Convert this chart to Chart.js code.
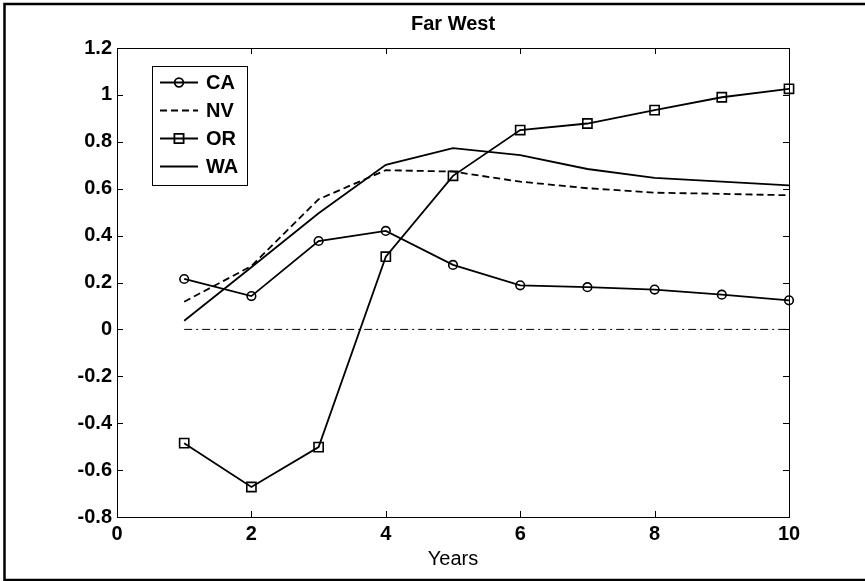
<!DOCTYPE html>
<html>
<head>
<meta charset="utf-8">
<script src="https://cdn.jsdelivr.net/npm/chart.js@4.4.1/dist/chart.umd.min.js"></script>
<style>
  html, body { margin: 0; padding: 0; background: #fff; }
  canvas { display: block; }
</style>
</head>
<body>
<canvas id="myChart" width="865" height="581"></canvas>
<script>
const years = [1, 2, 3, 4, 5, 6, 7, 8, 9, 10];
const ca = [0.215, 0.142, 0.377, 0.42, 0.275, 0.188, 0.18, 0.17, 0.148, 0.124];
const nv = [0.118, 0.27, 0.555, 0.679, 0.673, 0.63, 0.602, 0.583, 0.578, 0.572];
const or = [-0.485, -0.672, -0.502, 0.31, 0.655, 0.85, 0.878, 0.935, 0.99, 1.026];
const wa = [0.037, 0.265, 0.495, 0.702, 0.773, 0.743, 0.684, 0.646, 0.63, 0.614];
const zero = [0, 0, 0, 0, 0, 0, 0, 0, 0, 0];

const xTickLabels = ['0', '2', '4', '6', '8', '10'];
const yTickLabels = ['-0.8', '-0.6', '-0.4', '-0.2', '0', '0.2', '0.4', '0.6', '0.8', '1', '1.2'];

const FONT = '"Liberation Sans", Arial, Helvetica, sans-serif';

function pts(ys) 
{
    return years.map((x, i) => ({x: x, y: ys[i]}));
}

function series(label, ys, style, dash) 
{
    return {
        label: label,
        data: pts(ys),
        borderColor: '#000',
        borderWidth: 1.8,
        borderDash: dash || [],
        pointStyle: style || false,
        pointRadius: style == 'rect' ? 6.5 : (style ? 4.3 : 0),
        pointBorderWidth: 1.6,
        pointBorderColor: '#000',
        pointBackgroundColor: 'rgba(0,0,0,0)',
        tension: 0,
        clip: false
    };
}

const datasets = [
    series('CA', ca, 'circle'),
    series('NV', nv, null, [7, 4]),
    series('OR', or, 'rect'),
    series('WA', wa, null),
    Object.assign(series('', zero, null, [8, 4, 2, 4]), {borderWidth: 1, inLegend: false})
];

// MATLAB style frame, inward ticks, title, label and legend
const matlabLook = 
{
    id: 'matlabLook',
    afterDraw(chart) 
    {
        const ctx = chart.ctx;
        const a = chart.chartArea;
        const xs = chart.scales.x;
        const ys = chart.scales.y;
        ctx.save();

        ctx.strokeStyle = '#000';
        ctx.lineWidth = 1;
        ctx.setLineDash([]);
        ctx.strokeRect(a.left + 0.5, a.top + 0.5, a.right - a.left, a.bottom - a.top);

        ctx.beginPath();
        xs.ticks.forEach((t) => 
        {
            const px = Math.round(xs.getPixelForValue(t.value)) + 0.5;
            ctx.moveTo(px, a.bottom);
            ctx.lineTo(px, a.bottom - 6);
            ctx.moveTo(px, a.top);
            ctx.lineTo(px, a.top + 6);
        });
        ys.ticks.forEach((t) => 
        {
            const py = Math.round(ys.getPixelForValue(t.value)) + 0.5;
            ctx.moveTo(a.left, py);
            ctx.lineTo(a.left + 6, py);
            ctx.moveTo(a.right, py);
            ctx.lineTo(a.right - 6, py);
        });
        ctx.stroke();

        ctx.fillStyle = '#000';
        ctx.textAlign = 'center';
        ctx.textBaseline = 'alphabetic';
        ctx.font = 'bold 20px ' + FONT;
        ctx.fillText('Far West', (a.left + a.right) / 2, 30);
        ctx.font = '20px ' + FONT;
        ctx.fillText('Years', (a.left + a.right) / 2, 565);

        // legend
        const lx = 152, ly = 66, lw = 95, lh = 119;
        ctx.fillStyle = '#fff';
        ctx.fillRect(lx, ly, lw, lh);
        ctx.strokeStyle = '#000';
        ctx.lineWidth = 1;
        ctx.strokeRect(lx + 0.5, ly + 0.5, lw, lh);

        const items = chart.data.datasets.filter((d) => d.inLegend !== false);
        items.forEach((d, i) => 
        {
            const cy = 82.5 + i * 28;
            ctx.strokeStyle = d.borderColor;
            ctx.lineWidth = d.borderWidth;
            ctx.setLineDash(d.borderDash);
            ctx.beginPath();
            ctx.moveTo(160, cy);
            ctx.lineTo(198, cy);
            ctx.stroke();
            ctx.setLineDash([]);
            if (d.pointStyle) 
            {
                ctx.fillStyle = 'rgba(0,0,0,0)';
                ctx.strokeStyle = d.pointBorderColor;
                Chart.helpers.drawPoint(ctx, {
                    pointStyle: d.pointStyle,
                    radius: d.pointRadius,
                    borderWidth: d.pointBorderWidth,
                    rotation: 0
                }, 179, cy);
            }
            ctx.fillStyle = '#000';
            ctx.font = 'bold 20px ' + FONT;
            ctx.textAlign = 'left';
            ctx.textBaseline = 'middle';
            ctx.fillText(d.label, 206, cy + 1);
        });

        // figure border
        ctx.strokeStyle = '#000';
        ctx.lineWidth = 2.5;
        ctx.strokeRect(4.5, 4, 880, 576);
        ctx.restore();
    }
};

const ctx = document.getElementById('myChart');
new Chart(ctx, 
{
    type: 'line',
    data: {datasets: datasets},
    options: 
    {
        responsive: false,
        animation: false,
        devicePixelRatio: 1,
        layout: {padding: {left: 0, right: 76, top: 48, bottom: 0}},
        plugins: {legend: {display: false}, tooltip: {enabled: false}},
        scales: 
        {
            x: 
            {
                type: 'linear',
                min: 0,
                max: 10,
                grid: {display: false, drawTicks: false},
                border: {display: false},
                ticks: 
                {
                    stepSize: 2,
                    padding: 5,
                    color: '#000',
                    maxRotation: 0,
                    font: {family: FONT, size: 20, weight: 'bold'},
                    callback: (v, i) => xTickLabels[i]
                },
                afterFit: (s) => { s.height = 64; }
            },
            y: 
            {
                type: 'linear',
                min: -0.8,
                max: 1.2,
                grid: {display: false, drawTicks: false},
                border: {display: false},
                ticks: 
                {
                    stepSize: 0.2,
                    padding: 5,
                    color: '#000',
                    font: {family: FONT, size: 20, weight: 'bold'},
                    callback: (v, i) => yTickLabels[i]
                },
                afterFit: (s) => { s.width = 117; }
            }
        }
    },
    plugins: [matlabLook]
});
</script>
</body>
</html>
